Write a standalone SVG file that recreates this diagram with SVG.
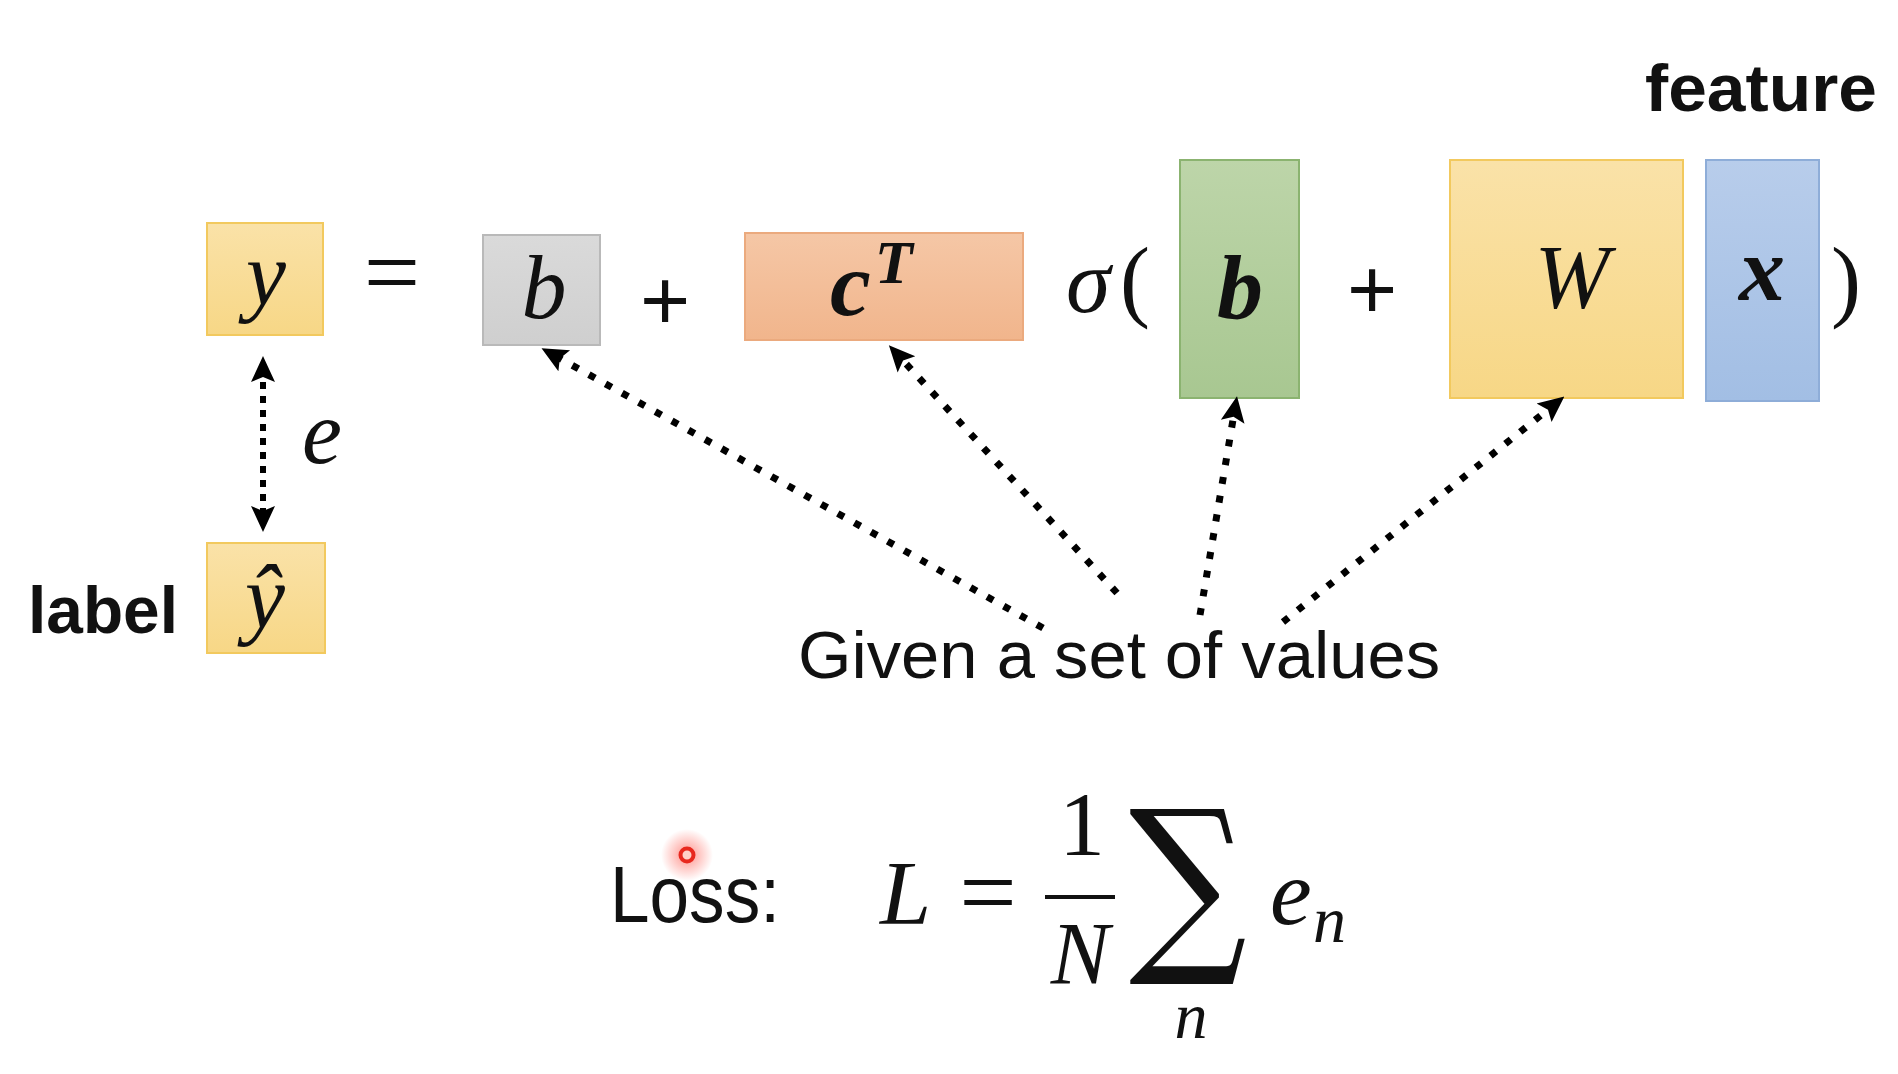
<svg xmlns="http://www.w3.org/2000/svg" width="1898" height="1074" viewBox="0 0 1898 1074">
  <defs>
    <linearGradient id="gYellow" x1="0" y1="0" x2="0" y2="1"><stop offset="0" stop-color="#FAE2A8"/><stop offset="1" stop-color="#F7D786"/></linearGradient>
    <linearGradient id="gGray" x1="0" y1="0" x2="0" y2="1"><stop offset="0" stop-color="#DADADA"/><stop offset="1" stop-color="#CFCFCF"/></linearGradient>
    <linearGradient id="gOrange" x1="0" y1="0" x2="0" y2="1"><stop offset="0" stop-color="#F5C7A6"/><stop offset="1" stop-color="#F1B58C"/></linearGradient>
    <linearGradient id="gGreen" x1="0" y1="0" x2="0" y2="1"><stop offset="0" stop-color="#BDD5A9"/><stop offset="1" stop-color="#A8C791"/></linearGradient>
    <linearGradient id="gBlue" x1="0" y1="0" x2="0" y2="1"><stop offset="0" stop-color="#B8CDEB"/><stop offset="1" stop-color="#A2BEE4"/></linearGradient>
    <radialGradient id="gLaser"><stop offset="0" stop-color="#FF3B2F" stop-opacity="0.55"/><stop offset="1" stop-color="#FF3B2F" stop-opacity="0"/></radialGradient>
    <marker id="ah" viewBox="0 0 26 26" markerWidth="26" markerHeight="26" refX="14" refY="13" orient="auto-start-reverse" markerUnits="userSpaceOnUse">
      <path d="M0,1 L26,13 L0,25 L5,13 z" fill="#000"/>
    </marker>
    <style>
      .box-y { fill: url(#gYellow); stroke: #F2C95E; stroke-width: 2; }
      .box-g { fill: url(#gGray); stroke: #B9B9B9; stroke-width: 2; }
      .box-o { fill: url(#gOrange); stroke: #EBAA7E; stroke-width: 2; }
      .box-gr { fill: url(#gGreen); stroke: #8BB370; stroke-width: 2; }
      .box-b { fill: url(#gBlue); stroke: #8EADD8; stroke-width: 2; }
      .m { font-family: "Liberation Serif", "DejaVu Serif", serif; font-style: italic; font-size: 90px; fill: #111; }
      .mb { font-family: "Liberation Serif", "DejaVu Serif", serif; font-style: italic; font-weight: bold; font-size: 92px; fill: #111; }
      .up { font-family: "Liberation Serif", "DejaVu Serif", serif; font-size: 90px; fill: #111; }
      .op { font-family: "Liberation Sans", Arial, sans-serif; font-size: 86px; fill: #111; }
      .lbl { font-family: "Liberation Sans", Arial, sans-serif; font-weight: bold; font-size: 66px; fill: #111; }
      .txt { font-family: "Liberation Sans", Arial, sans-serif; font-size: 67px; fill: #111; }
      .dot { fill: none; stroke: #000; stroke-width: 7; stroke-dasharray: 7 12; marker-end: url(#ah); }
      .dotv { fill: none; stroke: #000; stroke-width: 6; stroke-dasharray: 7 7; marker-start: url(#ah); marker-end: url(#ah); }
    </style>
  </defs>

  <rect x="0" y="0" width="1898" height="1074" fill="#FFFFFF"/>

  <text class="lbl" x="1645" y="111" textLength="232" lengthAdjust="spacingAndGlyphs">feature</text>

  <g id="node-y">
    <rect class="box-y" x="207" y="223" width="116" height="112"/>
    <text class="m" x="266" y="305" text-anchor="middle">y</text>
  </g>

  <text class="up" x="392" y="306" text-anchor="middle" style="font-size:100px">=</text>

  <g id="node-b-out">
    <rect class="box-g" x="483" y="235" width="117" height="110"/>
    <text class="m" x="544" y="318" text-anchor="middle">b</text>
  </g>

  <text class="op" x="665" y="330" text-anchor="middle">+</text>

  <g id="node-cT">
    <rect class="box-o" x="745" y="233" width="278" height="107"/>
    <text class="mb" x="830" y="315">c<tspan class="m" style="font-size:62px" dx="4" dy="-32">T</tspan></text>
  </g>

  <text class="m" x="1066" y="312">σ</text>
  <text class="up" x="1120" y="310">(</text>

  <g id="node-b-in">
    <rect class="box-gr" x="1180" y="160" width="119" height="238"/>
    <text class="mb" x="1240" y="318" text-anchor="middle">b</text>
  </g>

  <text class="op" x="1372" y="319" text-anchor="middle">+</text>

  <g id="node-W">
    <rect class="box-y" x="1450" y="160" width="233" height="238"/>
    <text class="m" x="1572" y="308" text-anchor="middle">W</text>
  </g>

  <g id="node-x">
    <rect class="box-b" x="1706" y="160" width="113" height="241"/>
    <text class="mb" x="1762" y="300" text-anchor="middle">x</text>
  </g>

  <text class="up" x="1831" y="310">)</text>

  <g id="node-yhat">
    <rect class="box-y" x="207" y="543" width="118" height="110"/>
    <text class="m" x="265" y="628" text-anchor="middle">ŷ</text>
  </g>
  <text class="lbl" x="28" y="633" textLength="150" lengthAdjust="spacingAndGlyphs">label</text>

  <text class="m" x="302" y="463">e</text>

  <g id="node-given">
    <text class="txt" x="798" y="678" textLength="642" lengthAdjust="spacingAndGlyphs">Given a set of values</text>
  </g>

  <g id="connectors">
    <line class="dotv" x1="263" y1="368" x2="263" y2="520"/>
    <line class="dot" x1="1043" y1="628" x2="552" y2="354"/>
    <line class="dot" x1="1117" y1="593" x2="897" y2="354"/>
    <line class="dot" x1="1200" y1="615" x2="1235" y2="408"/>
    <line class="dot" x1="1283" y1="622" x2="1555" y2="404"/>
  </g>

  <g id="loss">
    <text class="txt" x="610" y="922" style="font-size:80px" textLength="170" lengthAdjust="spacingAndGlyphs">Loss:</text>
    <text class="m" x="880" y="924" style="font-size:92px">L</text>
    <text class="up" x="988" y="926" style="font-size:102px" text-anchor="middle">=</text>
    <text class="up" x="1082" y="855" style="font-size:92px" text-anchor="middle">1</text>
    <rect x="1045" y="895" width="70" height="4" fill="#111"/>
    <text class="m" x="1080" y="983" style="font-size:88px" text-anchor="middle">N</text>
    <text class="up" transform="translate(1188,947) scale(0.86,1)" style="font-size:192px;font-family:'DejaVu Serif',serif" text-anchor="middle">∑</text>
    <text class="m" x="1191" y="1038" style="font-size:66px" text-anchor="middle">n</text>
    <text class="m" x="1270" y="924" style="font-size:94px">e</text>
    <text class="m" x="1313" y="942" style="font-size:66px">n</text>
  </g>

  <g id="laser-pointer">
    <circle cx="687" cy="855" r="26" fill="url(#gLaser)"/>
    <circle cx="687" cy="855" r="6.5" fill="#FFD0C8" stroke="#E8281E" stroke-width="4"/>
  </g>
</svg>
